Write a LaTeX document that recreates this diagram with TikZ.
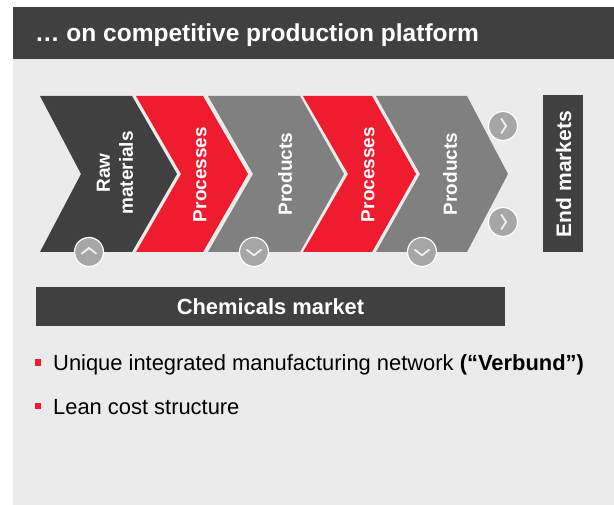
\documentclass[tikz,border=0pt]{standalone}
\usepackage{fontspec}
\setmainfont{Liberation Sans}
\definecolor{darkgr}{HTML}{404040}
\definecolor{basfred}{RGB}{238,28,46}
\definecolor{midgr}{HTML}{808080}
\definecolor{panel}{HTML}{EBEBEB}
\definecolor{circgr}{HTML}{A6A6A6}
\begin{document}
\begin{tikzpicture}[x=1pt,y=-1pt,
  chevtext/.style={text=white,font=\fontsize{19}{23}\selectfont\bfseries,rotate=90,inner sep=0pt,align=center},
  circbtn/.style={circle,fill=circgr,draw=white,line width=1.2pt,minimum size=29pt,inner sep=0pt},
  glyph/.style={draw=white!94!black,line width=1.8pt},
  bullettext/.style={anchor=base west,inner sep=0pt,font=\fontsize{21.9}{25}\selectfont,text=black},
  bulletsq/.style={fill=basfred,minimum size=6.5pt,inner sep=0pt}
]
\useasboundingbox (0,0) rectangle (614,505);
\fill[white] (0,0) rectangle (614,505);
% panel and header
\fill[panel] (13,59) rectangle (614,505);
\fill[darkgr] (13,7) rectangle (614,59);
\node[anchor=base west,inner sep=0pt,text=white,font=\fontsize{24.5}{28}\selectfont\bfseries] (title) at (35,42) {\dots{} on competitive production platform};
% chevrons
\fill[darkgr] (40,96) -- (132,96) -- (177,174) -- (132,252) -- (40,252) -- (81,174) -- cycle;
\fill[basfred] (136,96) -- (203,96) -- (248,174) -- (203,252) -- (136,252) -- (181,174) -- cycle;
\fill[midgr] (208,96) -- (300,96) -- (344,174) -- (300,252) -- (208,252) -- (253,174) -- cycle;
\fill[basfred] (303,96) -- (372,96) -- (416,174) -- (372,252) -- (303,252) -- (348,174) -- cycle;
\fill[midgr] (376,96) -- (467,96) -- (508,174) -- (467,252) -- (376,252) -- (420,174) -- cycle;
% chevron labels
\node[chevtext] (raw) at (115,173) {Raw\\materials};
\node[chevtext] (proc1) at (200,174.5) {Processes};
\node[chevtext] (prod1) at (285,174) {Products};
\node[chevtext] (proc2) at (368,174.5) {Processes};
\node[chevtext] (prod2) at (450,174) {Products};
% end markets
\fill[darkgr] (543,95) rectangle (583,252);
\node[chevtext,font=\fontsize{21}{25}\selectfont\bfseries] (endm) at (563.5,174) {End markets};
% circle buttons
\node[circbtn] (c1) at (89,252) {};
\node[circbtn] (c2) at (254,252) {};
\node[circbtn] (c3) at (422,252) {};
\node[circbtn] (c4) at (503,126) {};
\node[circbtn] (c5) at (503,222) {};
\draw[glyph] ([shift={(-7.5,1.8)}]c1.center) -- ([shift={(0,-4)}]c1.center) -- ([shift={(7.5,1.8)}]c1.center);
\draw[glyph] ([shift={(-7.5,-2.5)}]c2.center) -- ([shift={(0,3.3)}]c2.center) -- ([shift={(7.5,-2.5)}]c2.center);
\draw[glyph] ([shift={(-7.5,-2.5)}]c3.center) -- ([shift={(0,3.3)}]c3.center) -- ([shift={(7.5,-2.5)}]c3.center);
\draw[glyph] ([shift={(-1.8,-7.5)}]c4.center) -- ([shift={(3,0)}]c4.center) -- ([shift={(-1.8,7.5)}]c4.center);
\draw[glyph] ([shift={(-1.8,-7.5)}]c5.center) -- ([shift={(3,0)}]c5.center) -- ([shift={(-1.8,7.5)}]c5.center);
% chemicals market bar
\fill[darkgr] (36,287) rectangle (505,326);
\node[anchor=base,inner sep=0pt,text=white,font=\fontsize{21.9}{25}\selectfont\bfseries] (chem) at (270.5,315) {Chemicals market};
% bullets
\node[bulletsq] (b1) at (38,362.5) {};
\node[bullettext] (t1) at (53,371) {Unique integrated manufacturing network \textbf{(“Verbund”)}};
\node[bulletsq] (b2) at (38,406) {};
\node[bullettext] (t2) at (53,414) {Lean cost structure};
\end{tikzpicture}
\end{document}
